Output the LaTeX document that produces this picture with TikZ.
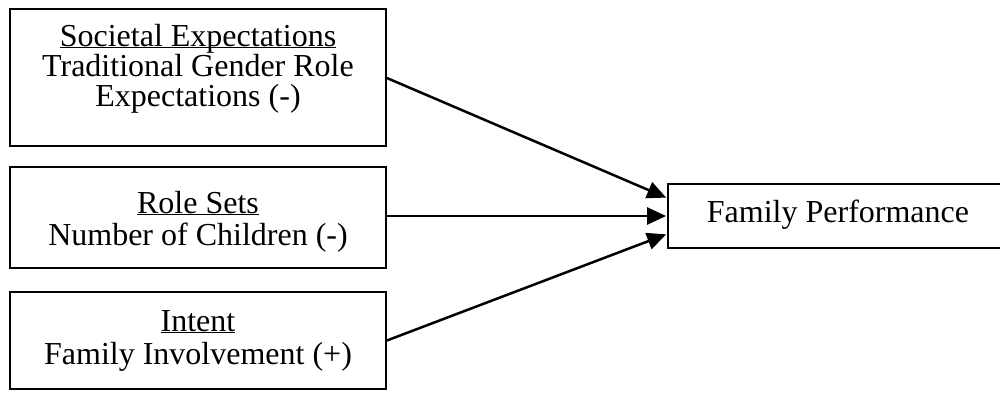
\documentclass[tikz,border=0pt]{standalone}
\usepackage{fontspec}
\setmainfont{Liberation Serif}
\usetikzlibrary{arrows.meta}
\newcommand\mytight{\lineskiplimit -20pt\relax}
\newcommand\myul[1]{\underline{\smash{#1}}}
\begin{document}
\begin{tikzpicture}[x=1pt,y=-1pt,
  box/.style={draw, line width=1.8pt, rectangle, inner sep=0pt, minimum width=376pt},
  lbl/.style={align=center, inner sep=0pt, font={\fontsize{32}{30}\selectfont\mytight}},
  arr/.style={line width=2.5pt, -{Triangle[length=19pt,width=17pt]}, shorten >=1pt}]
\useasboundingbox (0,0) rectangle (1000,392);
\node[box, minimum height=137pt] (b1) at (198,77.5) {};
\node[box, minimum height=101pt] (b2) at (198,217.5) {};
\node[box, minimum height=97pt]  (b3) at (198,340.5) {};
\node[box, minimum width=342pt, minimum height=64pt] (fp) at (839,216) {};
\node[lbl, anchor=north] (t1) at (198,46) {\myul{Societal Expectations}\\Traditional Gender Role\\Expectations (-)};
\node[lbl, anchor=north, font={\fontsize{32}{32}\selectfont\mytight}] (t2) at (198,213) {\myul{Role Sets}\\Number of Children (-)};
\node[lbl, anchor=north, font={\fontsize{32}{33}\selectfont\mytight}] (t3) at (198,331) {\myul{Intent}\\Family Involvement (+)};
\node[lbl] (t4) at (838,214.5) {Family Performance};
\draw[arr] ([yshift=-0.5pt]b1.east) -- ([yshift=18pt]fp.west);
\draw[arr] ([yshift=1.5pt]b2.east) -- (fp.west);
\draw[arr] (b3.east) -- ([yshift=-18pt]fp.west);
\end{tikzpicture}
\end{document}
